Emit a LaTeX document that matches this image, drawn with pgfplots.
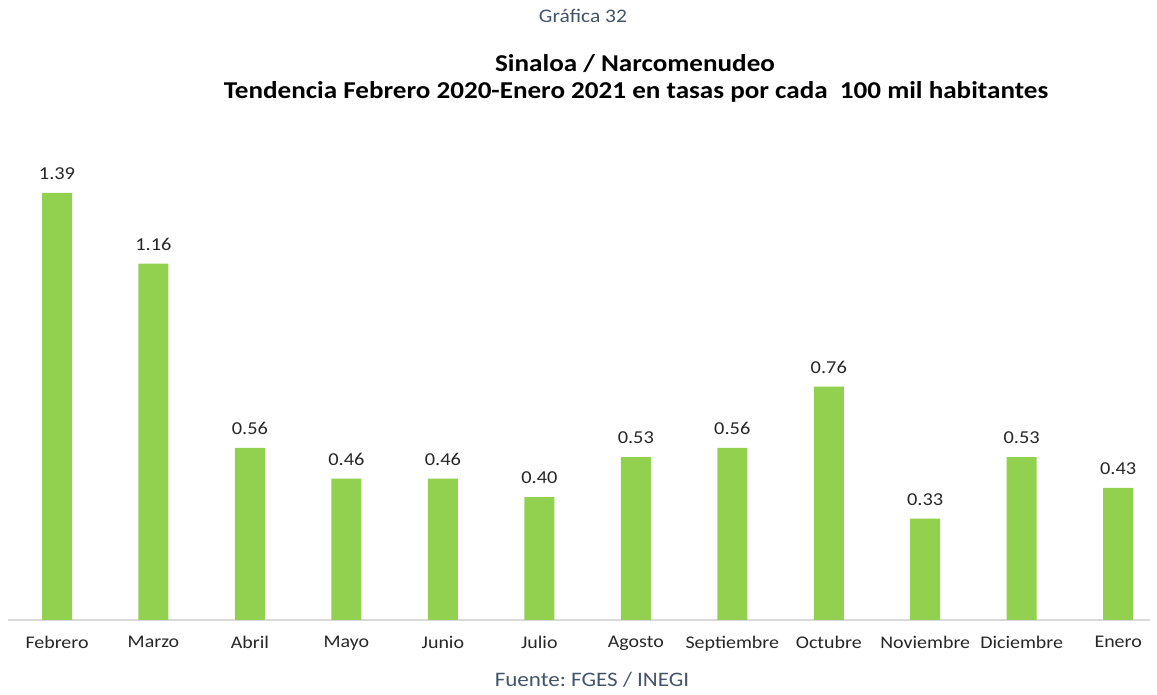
\documentclass[border=0pt]{standalone}
\usepackage{pgfplots}
\pgfplotsset{compat=1.18}
\usepackage{fontspec}
\setmainfont{Carlito}[FakeStretch=1.12]
\definecolor{bargreen}{HTML}{92D050}
\definecolor{slate}{HTML}{44546A}
\definecolor{axisgray}{HTML}{D9D9D9}
\begin{document}
\begin{tikzpicture}
\path (0,0) rectangle (578.5pt,345pt);
\begin{axis}[
  at={(4pt,35pt)}, anchor=south west,
  scale only axis, width=571pt, height=213.5pt,
  xmin=-0.508, xmax=11.33, ymin=0, ymax=1.39,
  axis x line*=bottom, axis y line=none,
  x axis line style={axisgray, line width=0.8pt, -},
  xtick={0,...,11},
  xticklabels={Febrero,Marzo,Abril,Mayo,Junio,Julio,Agosto,Septiembre,Octubre,Noviembre,Diciembre,Enero},
  xticklabel style={font=\fontsize{8.9}{10}\selectfont, text=black!85, yshift=-4.5pt},
  major tick length=0pt,
  clip=false,
  ybar, bar width=15pt,
  nodes near coords,
  nodes near coords style={font=\fontsize{9.1}{10}\selectfont, text=black!85, /pgf/number format/fixed, /pgf/number format/precision=2, /pgf/number format/zerofill, /pgf/number format/assume math mode=true, yshift=3pt},
]
\addplot[fill=bargreen, draw=none] coordinates {
(0,1.39) (1,1.16) (2,0.56) (3,0.46) (4,0.46) (5,0.40)
(6,0.53) (7,0.56) (8,0.76) (9,0.33) (10,0.53) (11,0.43)};
\end{axis}
\node[text=slate, font=\fontsize{9.6}{10}\selectfont] at (291.5pt,337pt) {Gráfica 32};
\node[font=\bfseries\fontsize{12.1}{14}\selectfont, text=black] at (317.5pt,313pt) {Sinaloa / Narcomenudeo};
\node[font=\bfseries\fontsize{12.1}{14}\selectfont, text=black] at (318pt,299pt) {Tendencia Febrero 2020-Enero 2021 en tasas por cada\ \ 100 mil habitantes};
\node[text=slate, font=\fontsize{10.3}{12}\selectfont] at (296pt,5pt) {Fuente:\ FGES / INEGI};
\end{tikzpicture}
\end{document}
